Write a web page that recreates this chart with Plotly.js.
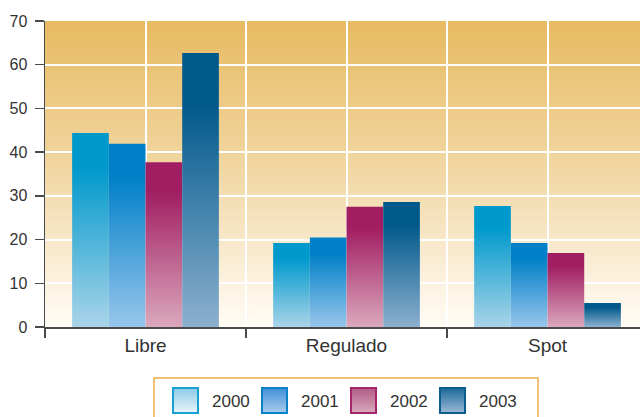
<!DOCTYPE html>
<html><head><meta charset="utf-8">
<script src="https://cdn.plot.ly/plotly-3.0.1.min.js"></script>
<style>html,body{margin:0;padding:0;background:#fff;} #chart{width:640px;height:417px;}</style>
</head><body><div id="chart"></div>
<script>
// ---- data ----
const categories = ['Libre', 'Regulado', 'Spot'];
const years = ['2000', '2001', '2002', '2003'];
const v2000 = [44.4, 19.2, 27.7];
const v2001 = [41.9, 20.5, 19.2];
const v2002 = [37.7, 27.5, 16.9];
const v2003 = [62.7, 28.6, 5.5];
const yTickVals = [0, 10, 20, 30, 40, 50, 60, 70];

// ---- styles ----
const topColors = ['#0099cc', '#0080c8', '#a11e63', '#00598b'];
const bottomColors = ['#a9d4e9', '#98c6ec', '#dba8bc', '#8cb0cf'];
const legTop = ['#8ccae6', '#3f8fd6', '#b15b86', '#1b6a9a'];
const legBottom = ['#eaf5fb', '#abcdee', '#dbaabd', '#9cb9d5'];
const legBorder = ['#1aa0d0', '#0a82c8', '#a3256a', '#0a5d8e'];

const seriesValues = [v2000, v2001, v2002, v2003];
const xPos = categories.map((c, i) => i);

const traces = years.map((yr, k) => ({
  type: 'bar', name: yr, x: xPos, y: seriesValues[k],
  marker: {color: topColors[k], line: {width: 0}},
  hoverinfo: 'skip'
}));

// grid at every half category, ticks at category boundaries
const halfVals = [], halfText = [], boundVals = [];
for (let i = -1; i < categories.length * 2; i++) {
  const v = i / 2;
  halfVals.push(v);
  halfText.push(Number.isInteger(v) ? categories[v] : '');
  if (!Number.isInteger(v)) boundVals.push(v);
}

const bgSvg = '<svg xmlns="http://www.w3.org/2000/svg" width="10" height="100" viewBox="0 0 10 100" preserveAspectRatio="none">' +
  '<defs><linearGradient id="g" x1="0" y1="0" x2="0" y2="1">' +
  '<stop offset="0" stop-color="#e7ba61"/><stop offset="0.5" stop-color="#f2d8a6"/><stop offset="1" stop-color="#fffcf6"/>' +
  '</linearGradient></defs><rect x="0" y="0" width="10" height="100" fill="url(#g)"/></svg>';

const plotL = 45, plotT = 21, plotB = 327, plotW = 595, plotH = 306;
const py = (px) => (plotB - px) / plotH;
const pxx = (px) => (px - plotL) / plotW;

const layout = {
  width: 640, height: 417,
  margin: {l: plotL, r: 0, t: plotT, b: 417 - plotB, pad: 0},
  paper_bgcolor: '#ffffff', plot_bgcolor: 'rgba(0,0,0,0)',
  barmode: 'group', bargap: 0.27, bargroupgap: 0,
  showlegend: true,
  font: {family: 'Liberation Sans, Arial, sans-serif', color: '#333'},
  xaxis: {
    range: [-0.5, 2.46], tickmode: 'array', tickvals: halfVals, ticktext: halfText,
    ticks: '', showgrid: true, gridcolor: '#ffffff', gridwidth: 2,
    showline: true, linecolor: '#4a4a4a', linewidth: 2, zeroline: false,
    tickfont: {size: 19, color: '#333'},
    minor: {tickmode: 'array', tickvals: boundVals, ticks: 'outside', ticklen: 9, tickwidth: 1.5, tickcolor: '#4a4a4a', showgrid: false},
    fixedrange: true
  },
  yaxis: {
    range: [0, 70], tickmode: 'array', tickvals: yTickVals, ticks: 'outside', ticklen: 9, tickwidth: 1.5,
    tickcolor: '#4a4a4a', showline: true, linecolor: '#4a4a4a', linewidth: 1.5,
    showgrid: true, gridcolor: '#ffffff', gridwidth: 2, zeroline: false,
    ticklabelstandoff: 4,
    tickfont: {size: 16, color: '#333'}, fixedrange: true
  },
  legend: {
    orientation: 'h', x: pxx(172), xanchor: 'left', y: py(398), yanchor: 'middle',
    bgcolor: 'rgba(0,0,0,0)', borderwidth: 0,
    font: {size: 17, color: '#333'},
    entrywidth: 44, entrywidthmode: 'pixels', traceorder: 'normal'
  },
  images: [{source: 'data:image/svg+xml;charset=utf-8,' + encodeURIComponent(bgSvg),
    xref: 'paper', yref: 'paper', x: 0, y: 1, sizex: 1, sizey: 1, sizing: 'stretch',
    xanchor: 'left', yanchor: 'top', layer: 'below'}],
  shapes: [{type: 'rect', xref: 'paper', yref: 'paper', x0: pxx(154), x1: pxx(538), y0: py(378), y1: py(430),
    line: {color: '#eec272', width: 2}, fillcolor: 'rgba(0,0,0,0)', layer: 'above'}]
};

const gd = document.getElementById('chart');
Plotly.newPlot(gd, traces, layout, {staticPlot: true, displayModeBar: false}).then(() => {
  const svg = gd.querySelector('svg.main-svg');
  let defs = svg.querySelector('defs');
  const NS = 'http://www.w3.org/2000/svg';
  function grad(id, stops) {
    const lg = document.createElementNS(NS, 'linearGradient');
    lg.setAttribute('id', id);
    lg.setAttribute('x1', '0'); lg.setAttribute('y1', '0'); lg.setAttribute('x2', '0'); lg.setAttribute('y2', '1');
    stops.forEach(([o, c]) => {
      const s = document.createElementNS(NS, 'stop');
      s.setAttribute('offset', o); s.setAttribute('stop-color', c);
      lg.appendChild(s);
    });
    defs.appendChild(lg);
  }
  years.forEach((yr, k) => {
    grad('barg' + k, [[0, topColors[k]], [0.18, topColors[k]], [1, bottomColors[k]]]);
    grad('legg' + k, [[0, legTop[k]], [1, legBottom[k]]]);
  });
  gd.querySelectorAll('g.trace.bars').forEach((tr, k) => {
    tr.querySelectorAll('path').forEach(p => { p.style.fill = 'url(#barg' + k + ')'; });
  });
  gd.querySelectorAll('.legend .traces').forEach((tr, k) => {
    tr.querySelectorAll('.legendpoints path').forEach(p => {
      p.setAttribute('d', 'M6,12.5H-19V-12.5H6Z');
      p.style.fill = 'url(#legg' + k + ')';
      p.style.stroke = legBorder[k];
      p.style.strokeWidth = '2px';
      p.style.strokeOpacity = '1';
    });
  });
  // nudge legend down slightly (kept inside margins for layout)
  const leg = gd.querySelector('g.legend');
  if (leg) {
    const t = leg.getAttribute('transform') || '';
    const m = t.match(/translate\(\s*([-\d.]+)[ ,]+([-\d.]+)\s*\)/);
    if (m) leg.setAttribute('transform', 'translate(' + m[1] + ',' + (parseFloat(m[2]) + 3) + ')');
  }
});
</script>
</body></html>
